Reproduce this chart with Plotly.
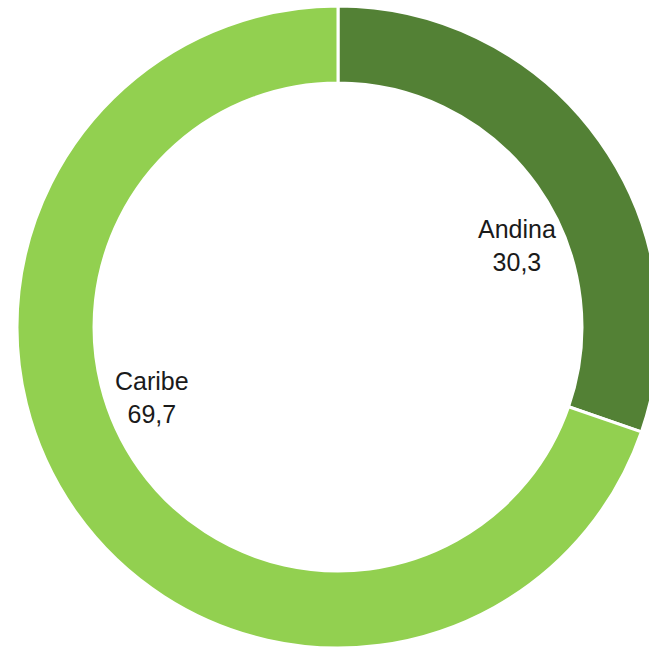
import plotly.graph_objects as go

# Share of the total by region (%)
regions = ["Andina", "Caribe"]
shares = [30.3, 69.7]
colors = ["#538135", "#92D050"]

# Label anchor points inside the hole, in pixels from the top-left corner
label_px = [(517, 245), (152, 397)]

W, H = 676, 649
cx, cy, r = 338, 327, 321

fig = go.Figure(
    go.Pie(
        labels=regions,
        values=shares,
        hole=0.76,
        sort=False,
        direction="clockwise",
        rotation=0,
        marker=dict(colors=colors, line=dict(color="white", width=3)),
        textinfo="none",
        hoverinfo="label+value",
        showlegend=False,
        domain=dict(
            x=[(cx - r) / W, (cx + r) / W],
            y=[1 - (cy + r) / H, 1 - (cy - r) / H],
        ),
    )
)

for name, val, (px, py) in zip(regions, shares, label_px):
    fig.add_annotation(
        x=px / W,
        y=1 - py / H,
        xref="paper",
        yref="paper",
        xanchor="center",
        yanchor="middle",
        text=f"{name}<br>{str(val).replace('.', ',')}",
        showarrow=False,
        font=dict(family="Liberation Sans, Arial, sans-serif", size=25, color="#1a1a1a"),
        align="center",
    )

fig.update_layout(
    width=W,
    height=H,
    margin=dict(l=0, r=0, t=0, b=0),
    paper_bgcolor="white",
    plot_bgcolor="white",
)

fig.write_html(
    "out.html",
    post_script="document.body.style.margin='0';document.body.style.overflow='hidden';",
)
